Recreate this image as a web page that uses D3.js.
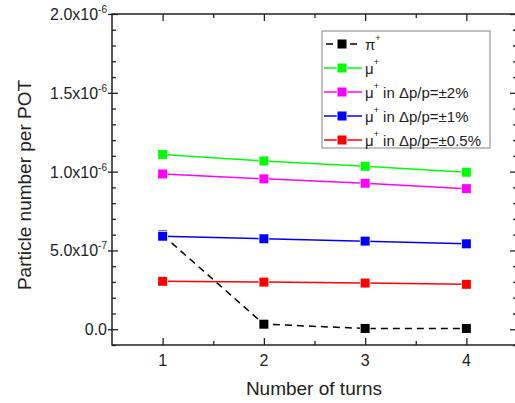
<!DOCTYPE html>
<html>
<head>
<meta charset="utf-8">
<script src="https://cdn.jsdelivr.net/npm/d3@7"></script>
<style>
  body { margin: 0; background: #fff; }
  svg text { font-family: "Liberation Sans", Arial, sans-serif; fill: #222; }
</style>
</head>
<body>
<div id="chart"></div>
<script>
// data
const turns = [1, 2, 3, 4];
const piPlus = [0.598e-6, 0.032e-6, 0.005e-6, 0.005e-6];
const muPlus = [1.109e-6, 1.068e-6, 1.034e-6, 0.996e-6];
const muIn2 = [0.985e-6, 0.954e-6, 0.926e-6, 0.892e-6];
const muIn1 = [0.590e-6, 0.574e-6, 0.559e-6, 0.542e-6];
const muIn05 = [0.304e-6, 0.299e-6, 0.293e-6, 0.285e-6];

const seriesNames = ["π", "μ", "μ", "μ", "μ"];
const seriesSuffix = ["", "", " in Δp/p=±2%", " in Δp/p=±1%", " in Δp/p=±0.5%"];
const seriesColors = ["#000000", "#00ff00", "#ff00ff", "#0000ff", "#ff0000"];

const xTicks = [1, 2, 3, 4];
const xMinor = [1.5, 2.5, 3.5];
const yTicks = [0, 0.5e-6, 1.0e-6, 1.5e-6, 2.0e-6];
const yTickBase = ["0.0", "5.0x10", "1.0x10", "1.5x10", "2.0x10"];
const yTickExp = ["", "-7", "-6", "-6", "-6"];
const yMinor = d3.range(-1, 20).map(i => i * 1e-7).filter(v => !yTicks.some(t => Math.abs(t - v) < 1e-12));

const series = [piPlus, muPlus, muIn2, muIn1, muIn05].map((vals, i) => ({
    name: seriesNames[i], suffix: seriesSuffix[i], color: seriesColors[i],
    values: vals.map((v, j) => ({x: turns[j], y: v}))
}));

const margin = {top: 14, right: -2, bottom: 58, left: 112};
const W = 515, H = 403;
const width = W - margin.left - margin.right;
const height = H - margin.top - margin.bottom;

const svg = d3.select("#chart").append("svg")
    .attr("width", W)
    .attr("height", H);

const g = svg.append("g")
    .attr("transform", `translate(${margin.left},${margin.top})`);

const x = d3.scaleLinear().domain([0.5, 4.5]).range([0, width]);
const y = d3.scaleLinear().domain([-1e-7, 2e-6]).range([height, 0]);

const axisColor = "#222";

// bottom / top axes, ticks pointing inward
g.append("g")
    .attr("transform", `translate(0,${height})`)
    .call(d3.axisBottom(x).tickValues(xTicks).tickSize(-7).tickFormat(""));
g.append("g")
    .attr("transform", `translate(0,${height})`)
    .call(d3.axisBottom(x).tickValues(xMinor).tickSize(-4).tickFormat(""));
g.append("g")
    .call(d3.axisTop(x).tickValues(xTicks).tickSize(-7).tickFormat(""));
g.append("g")
    .call(d3.axisTop(x).tickValues(xMinor).tickSize(-4).tickFormat(""));

// left axis, major ticks cross the line
const yAxis = g.append("g")
    .call(d3.axisLeft(y).tickValues(yTicks).tickSize(4).tickFormat(""));
yAxis.selectAll(".tick line").attr("x1", 6);
g.append("g")
    .call(d3.axisLeft(y).tickValues(yMinor).tickSize(-4).tickFormat(""));

// right axis
g.append("g")
    .attr("transform", `translate(${width},0)`)
    .call(d3.axisRight(y).tickValues(yTicks).tickSize(-7).tickFormat(""));
g.append("g")
    .attr("transform", `translate(${width},0)`)
    .call(d3.axisRight(y).tickValues(yMinor).tickSize(-4).tickFormat(""));

g.selectAll(".domain").remove();
g.selectAll(".tick text").remove();
g.selectAll(".tick line").attr("stroke", axisColor).attr("stroke-width", 1.3);

// tick labels
const labels = g.append("g");
labels.selectAll(".xlab")
    .data(xTicks)
    .enter().append("text")
    .attr("class", "xlab")
    .attr("x", d => x(d))
    .attr("y", height + 21)
    .attr("text-anchor", "middle")
    .attr("font-size", "16px")
    .text(d => d);

const ylab = labels.selectAll(".ylab")
    .data(yTicks)
    .enter().append("text")
    .attr("class", "ylab")
    .attr("x", -5)
    .attr("y", d => y(d) + 6)
    .attr("text-anchor", "end")
    .attr("font-size", "16px");
ylab.append("tspan").text((d, i) => yTickBase[i]);
ylab.append("tspan")
    .attr("dy", -7)
    .attr("font-size", "10px")
    .text((d, i) => yTickExp[i]);

// frame
g.append("rect")
    .attr("width", width)
    .attr("height", height)
    .attr("fill", "none")
    .attr("stroke", axisColor)
    .attr("stroke-width", 1.5);

// lines and markers
const line = d3.line().x(d => x(d.x)).y(d => y(d.y));
const sq = 9;

series.forEach((s, i) => {
    g.append("path")
        .datum(s.values)
        .attr("d", line)
        .attr("fill", "none")
        .attr("stroke", s.color)
        .attr("stroke-width", 1.5)
        .attr("stroke-dasharray", i === 0 ? "7,5" : null);
});
series.forEach(s => {
    g.append("g").selectAll("rect")
        .data(s.values)
        .enter().append("rect")
        .attr("x", d => x(d.x) - sq / 2)
        .attr("y", d => y(d.y) - sq / 2)
        .attr("width", sq)
        .attr("height", sq)
        .attr("fill", s.color)
        .attr("stroke", "#fff")
        .attr("stroke-width", 1.5)
        .attr("paint-order", "stroke");
});

// legend
const legend = svg.append("g").attr("transform", "translate(322,31)");
legend.append("rect")
    .attr("width", 168)
    .attr("height", 117)
    .attr("fill", "#fff")
    .attr("stroke", "#999")
    .attr("stroke-width", 1.2);

const item = legend.selectAll(".legend")
    .data(series)
    .enter().append("g")
    .attr("class", "legend")
    .attr("transform", (d, i) => `translate(0,${13 + i * 24})`);

item.append("line")
    .attr("x1", 2).attr("x2", 40)
    .attr("stroke", d => d.color)
    .attr("stroke-width", 1.5)
    .attr("stroke-dasharray", (d, i) => i === 0 ? "7,5" : null)
    .attr("stroke-dashoffset", (d, i) => i === 0 ? -2 : 0);

item.append("rect")
    .attr("x", 20 - sq / 2)
    .attr("y", -sq / 2)
    .attr("width", sq)
    .attr("height", sq)
    .attr("fill", d => d.color)
    .attr("stroke", "#fff")
    .attr("stroke-width", 1.5)
    .attr("paint-order", "stroke");

const lt = item.append("text")
    .attr("x", 43)
    .attr("y", 6)
    .attr("font-size", "15px");
lt.append("tspan").text(d => d.name);
lt.append("tspan").attr("y", -3).attr("font-size", "9px").text("+");
lt.append("tspan").attr("y", 6).text(d => d.suffix);

// axis titles
svg.append("text")
    .attr("text-anchor", "middle")
    .attr("x", 314)
    .attr("y", 395)
    .attr("font-size", "19px")
    .text("Number of turns");

svg.append("text")
    .attr("text-anchor", "middle")
    .attr("transform", "translate(31,185) rotate(-90)")
    .attr("font-size", "19px")
    .text("Particle number per POT");
</script>
</body>
</html>
